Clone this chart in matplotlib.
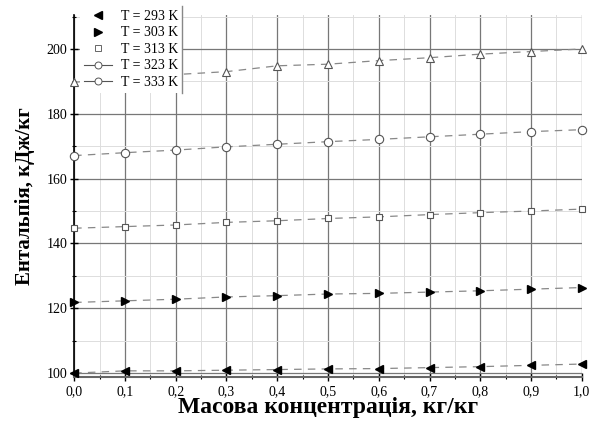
import numpy as np
import matplotlib
matplotlib.use('Agg')
import matplotlib.pyplot as plt
from matplotlib.lines import Line2D
from matplotlib.ticker import MultipleLocator, FuncFormatter

plt.rcParams['font.family'] = ['Liberation Serif', 'DejaVu Serif']

# масова концентрація, кг/кг
x = [0.0, 0.1, 0.2, 0.3, 0.4, 0.5, 0.6, 0.7, 0.8, 0.9, 1.0]

# ентальпія, кДж/кг
h293 = [100.0, 100.7, 100.7, 100.9, 101.1, 101.3, 101.4, 101.7, 102.0, 102.4, 102.8]
h303 = [121.8, 122.3, 122.8, 123.5, 123.9, 124.4, 124.6, 125.0, 125.4, 125.9, 126.4]
h313 = [144.7, 145.2, 145.7, 146.5, 147.0, 147.7, 148.2, 148.9, 149.5, 150.0, 150.6]
h323 = [167.1, 168.0, 168.8, 169.8, 170.6, 171.4, 172.1, 172.9, 173.7, 174.5, 175.1]
h333 = [189.7, 191.1, 192.1, 193.0, 194.8, 195.3, 196.4, 197.3, 198.4, 199.2, 200.0]

labels = ['T = 293 K', 'T = 303 K', 'T = 313 K', 'T = 323 K', 'T = 333 K']

fig = plt.figure(figsize=(5.98, 4.26), dpi=100)
ax = fig.add_axes([0.124, 0.115, 0.849, 0.85])

line_kw = dict(color='#888888', ls=(0, (6, 5)), lw=0.9, clip_on=False, zorder=3)
ax.plot(x, h293, marker='<', ms=6, mfc='black', mec='black', **line_kw)
ax.plot(x, h303, marker='>', ms=6, mfc='black', mec='black', **line_kw)
ax.plot(x, h313, marker='s', ms=5, mfc='white', mec='#555555', mew=0.8, **line_kw)
ax.plot(x, h323, marker='o', ms=6, mfc='white', mec='#555555', mew=0.8, **line_kw)
ax.plot(x, h333, marker='^', ms=6, mfc='white', mec='#555555', mew=0.8, **line_kw)

ax.set_xlim(0, 1.0)
ax.set_ylim(98.8, 210.5)
ax.xaxis.set_major_locator(MultipleLocator(0.1))
ax.xaxis.set_minor_locator(MultipleLocator(0.05))
ax.yaxis.set_major_locator(MultipleLocator(20))
ax.yaxis.set_minor_locator(MultipleLocator(10))
ax.xaxis.set_major_formatter(FuncFormatter(lambda v, p: ('%.1f' % v).replace('.', ',')))

ax.grid(True, which='major', color='#777777', lw=0.9)
ax.grid(True, which='minor', color='#dddddd', lw=0.7)
ax.set_axisbelow(True)

for s in ['top', 'right']:
    ax.spines[s].set_visible(False)
ax.spines['left'].set_linewidth(1.2)
ax.spines['bottom'].set_linewidth(1.5)
ax.spines['bottom'].set_color('#666666')

ax.tick_params(which='major', direction='inout', length=6, width=1, labelsize=10, colors='black')
ax.tick_params(which='minor', direction='inout', length=3, width=0.8)
ax.tick_params(axis='x', pad=3)
ax.tick_params(axis='y', pad=2)

ax.set_xlabel('Масова концентрація, кг/кг', fontsize=17, fontweight='bold', labelpad=-1)
ax.set_ylabel('Ентальпія, кДж/кг', fontsize=15, fontweight='bold', labelpad=8)

handles = [
    Line2D([], [], ls='none', marker='<', ms=6, mfc='black', mec='black'),
    Line2D([], [], ls='none', marker='>', ms=6, mfc='black', mec='black'),
    Line2D([], [], ls='none', marker='s', ms=4, mfc='white', mec='#666666', mew=0.7),
    Line2D([], [], color='#555555', lw=0.8, marker='o', ms=5, mfc='white', mec='#555555', mew=0.7),
    Line2D([], [], color='#555555', lw=0.8, marker='o', ms=5, mfc='white', mec='#555555', mew=0.7),
]
leg = ax.legend(handles, labels, loc='upper left', bbox_to_anchor=(0.012, 1.025),
                fontsize=10, frameon=True, fancybox=False, framealpha=1,
                edgecolor='white', borderaxespad=0, handlelength=2.0,
                labelspacing=0.25, borderpad=0.3, handletextpad=0.6)
leg.set_zorder(10)
leg.get_frame().set_linewidth(0)

# права межа легенди
fig.canvas.draw()
bb = leg.get_window_extent().transformed(fig.transFigure.inverted())
fig.add_artist(Line2D([bb.x1, bb.x1], [bb.y0, bb.y1], color='#888888', lw=1.0,
                      transform=fig.transFigure, zorder=11))

fig.savefig('out.png', dpi=100)
